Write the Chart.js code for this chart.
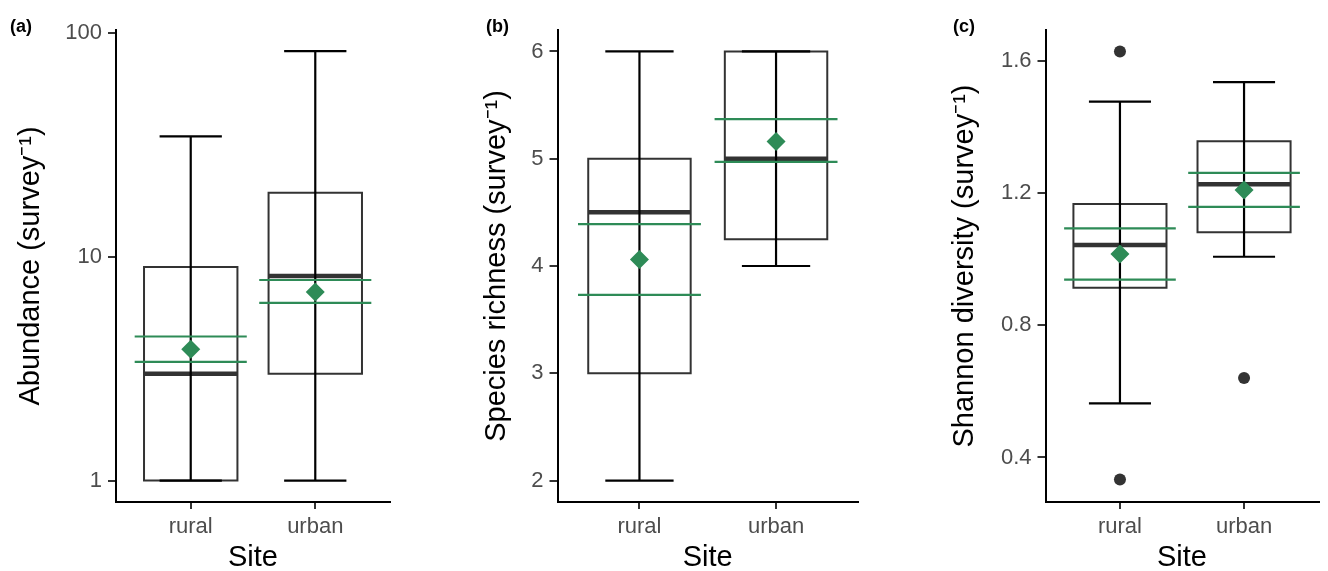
<!DOCTYPE html>
<html>
<head>
<meta charset="utf-8">
<script src="https://cdn.jsdelivr.net/npm/chart.js@4.4.1/dist/chart.umd.min.js"></script>
<style>
    body { margin: 0; background: #fff; }
    #wrap { position: relative; width: 1328px; height: 571px; overflow: hidden; }
    canvas { position: absolute; top: 0; }
    .tag { position: absolute; top: 16px; font: bold 18px "Liberation Sans", Arial, sans-serif; color: #000; }
</style>
</head>
<body>
<div id="wrap">
    <canvas id="abundChart" width="440" height="571" style="left:0"></canvas>
    <canvas id="richChart" width="440" height="571" style="left:440px"></canvas>
    <canvas id="shanChart" width="448" height="571" style="left:880px"></canvas>
    <div class="tag" style="left:10px">(a)</div>
    <div class="tag" style="left:486px">(b)</div>
    <div class="tag" style="left:953px">(c)</div>
</div>
<script>
const sites = ['rural', 'urban'];

// (a) Abundance
const abundLow = [1, 1];
const abundQ1 = [1, 3];
const abundMed = [3, 8.2];
const abundQ3 = [9, 19.3];
const abundHigh = [34.5, 82.8];
const abundMean = [3.86, 6.95];
const abundCiLow = [3.39, 6.22];
const abundCiHigh = [4.4, 7.87];
const abundOut = [[], []];
const abundTicks = [1, 10, 100];

// (b) Species richness
const richLow = [2, 4];
const richQ1 = [3, 4.25];
const richMed = [4.5, 5];
const richQ3 = [5, 6];
const richHigh = [6, 6];
const richMean = [4.06, 5.16];
const richCiLow = [3.73, 4.97];
const richCiHigh = [4.39, 5.37];
const richOut = [[], []];
const richTicks = [2, 3, 4, 5, 6];

// (c) Shannon diversity
const shanLow = [0.564, 1.008];
const shanQ1 = [0.914, 1.082];
const shanMed = [1.044, 1.228];
const shanQ3 = [1.168, 1.358];
const shanHigh = [1.478, 1.537];
const shanMean = [1.016, 1.21];
const shanCiLow = [0.939, 1.159];
const shanCiHigh = [1.094, 1.262];
const shanOut = [[1.63, 0.333], [0.641]];
const shanTicks = [0.4, 0.8, 1.2, 1.6];

const GREEN = '#2E8B57';
const BOX_HALF = 0.375, CAP_HALF = 0.25, CI_HALF = 0.45;

Chart.defaults.font.family = '"Liberation Sans", Arial, sans-serif';

// list of [x1, y1, x2, y2] -> points with gaps between segments
function segments(list) {
    const pts = [];
    list.forEach(s => {
        pts.push({x: s[0], y: s[1]}, {x: s[2], y: s[3]}, {x: s[2], y: null});
    });
    return pts;
}

function lineSet(data, color, width, cap) {
    return {
        type: 'line', data: data, borderColor: color, borderWidth: width,
        pointRadius: 0, fill: false, tension: 0, spanGaps: false,
        borderCapStyle: cap || 'butt', borderJoinStyle: 'miter'
    };
}

function makePanel(id, p) {
    const boxes = [], meds = [], whisk = [], ci = [], means = [], outs = [];
    sites.forEach((s, i) => {
        const x = i + 1;
        boxes.push({x: x - BOX_HALF, y: p.q1[i]}, {x: x + BOX_HALF, y: p.q1[i]},
                   {x: x + BOX_HALF, y: p.q3[i]}, {x: x - BOX_HALF, y: p.q3[i]},
                   {x: x - BOX_HALF, y: p.q1[i]}, {x: x, y: null});
        meds.push([x - BOX_HALF, p.med[i], x + BOX_HALF, p.med[i]]);
        whisk.push([x, p.low[i], x, p.high[i]]);
        whisk.push([x - CAP_HALF, p.low[i], x + CAP_HALF, p.low[i]]);
        whisk.push([x - CAP_HALF, p.high[i], x + CAP_HALF, p.high[i]]);
        ci.push([x - CI_HALF, p.ciLow[i], x + CI_HALF, p.ciLow[i]]);
        ci.push([x - CI_HALF, p.ciHigh[i], x + CI_HALF, p.ciHigh[i]]);
        means.push({x: x, y: p.mean[i]});
        p.out[i].forEach(v => outs.push({x: x, y: v}));
    });

    const ctx = document.getElementById(id).getContext('2d');
    return new Chart(ctx, {
        type: 'line',
        data: {
            datasets: [
                {type: 'scatter', data: means, pointStyle: 'rectRot', pointRadius: 9.5,
                 backgroundColor: GREEN, borderWidth: 0},
                {type: 'scatter', data: outs, pointStyle: 'circle', pointRadius: 6,
                 backgroundColor: '#333333', borderWidth: 0},
                lineSet(segments(ci), GREEN, 2.2),
                lineSet(segments(whisk), '#000000', 2.2),
                lineSet(segments(meds), '#333333', 4.5),
                lineSet(boxes, '#333333', 2, 'square')
            ]
        },
        options: {
            responsive: false,
            animation: false,
            events: [],
            layout: {padding: {top: 30, right: p.padRight, bottom: 0, left: 0}},
            plugins: {legend: {display: false}, tooltip: {enabled: false}},
            scales: {
                x: {
                    type: 'linear', min: 0.4, max: 2.6, bounds: 'data',
                    afterBuildTicks: s => { s.ticks = sites.map((_, i) => ({value: i + 1})); },
                    afterFit: s => { s.height = 69; },
                    border: {display: true, color: '#000', width: 2},
                    grid: {drawOnChartArea: false, drawTicks: true, tickLength: 7, color: '#333', lineWidth: 2},
                    ticks: {color: '#4d4d4d', font: {size: 22}, padding: 5, maxRotation: 0,
                            callback: v => sites[v - 1]},
                    title: {display: true, text: 'Site', color: '#000',
                            font: {size: 29, lineHeight: 0.9}, padding: 0}
                },
                y: {
                    type: p.log ? 'logarithmic' : 'linear',
                    min: p.yMin, max: p.yMax, bounds: 'data',
                    afterBuildTicks: s => { s.ticks = p.ticks.map(v => ({value: v})); },
                    afterFit: s => { s.width = p.yWidth; },
                    border: {display: true, color: '#000', width: 2},
                    grid: {drawOnChartArea: false, drawTicks: true, tickLength: 8, color: '#333', lineWidth: 2},
                    ticks: {color: '#4d4d4d', font: {size: 22}, padding: 6, callback: p.fmt},
                    title: {display: true, text: p.title, color: '#000',
                            font: {size: 29, lineHeight: 0.9}, padding: {top: p.titlePad, bottom: 0}}
                }
            }
        }
    });
}

makePanel('abundChart', {
    low: abundLow, q1: abundQ1, med: abundMed, q3: abundQ3, high: abundHigh,
    mean: abundMean, ciLow: abundCiLow, ciHigh: abundCiHigh, out: abundOut,
    ticks: abundTicks, log: true, yMin: 0.802, yMax: 103,
    fmt: v => String(v), title: 'Abundance (survey\u207B\u00B9)',
    yWidth: 116, padRight: 50, titlePad: 18
});

makePanel('richChart', {
    low: richLow, q1: richQ1, med: richMed, q3: richQ3, high: richHigh,
    mean: richMean, ciLow: richCiLow, ciHigh: richCiHigh, out: richOut,
    ticks: richTicks, log: false, yMin: 1.8, yMax: 6.2,
    fmt: v => String(v), title: 'Species richness (survey\u207B\u00B9)',
    yWidth: 117.5, padRight: 22, titlePad: 44
});

makePanel('shanChart', {
    low: shanLow, q1: shanQ1, med: shanMed, q3: shanQ3, high: shanHigh,
    mean: shanMean, ciLow: shanCiLow, ciHigh: shanCiHigh, out: shanOut,
    ticks: shanTicks, log: false, yMin: 0.265, yMax: 1.695,
    fmt: v => v.toFixed(1), title: 'Shannon diversity (survey\u207B\u00B9)',
    yWidth: 165.5, padRight: 2, titlePad: 72
});
</script>
</body>
</html>
